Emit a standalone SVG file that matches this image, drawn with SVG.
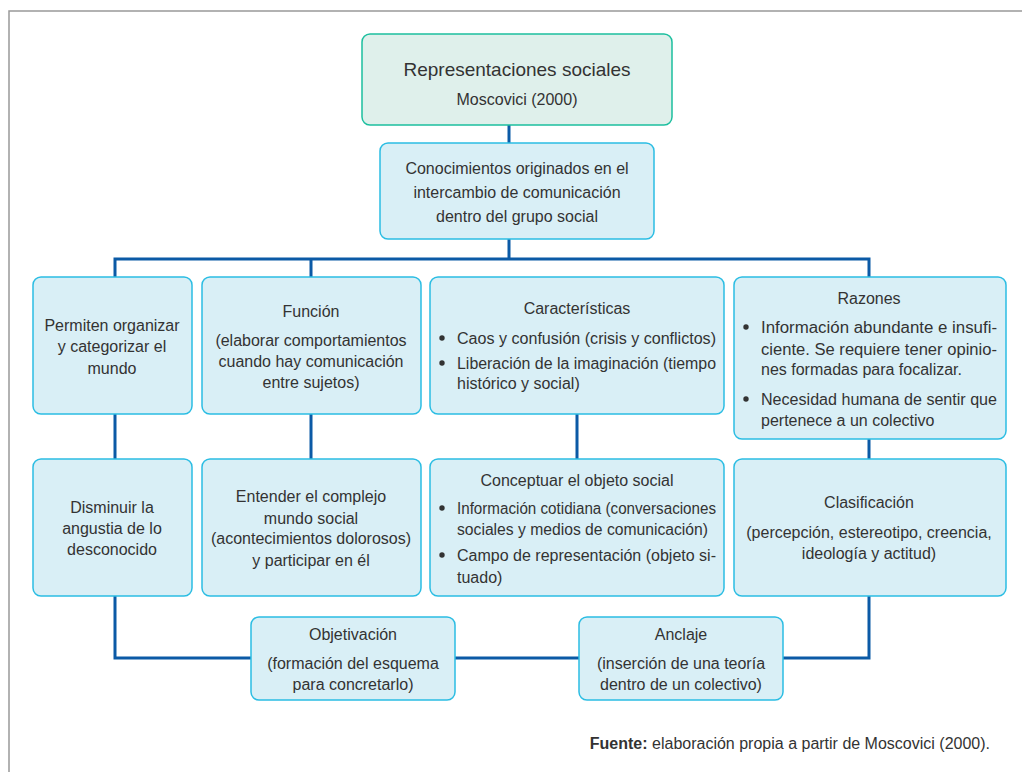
<svg xmlns="http://www.w3.org/2000/svg" width="1022" height="772" viewBox="0 0 1022 772">
<style>
.t{font-family:"Liberation Sans",Arial,sans-serif;font-size:16px;fill:#333;}
.c{text-anchor:middle;}
.b{fill:#d9eff6;stroke:#2bbde3;stroke-width:1.5;}
.top{fill:#dff0eb;stroke:#1dbf9f;stroke-width:1.5;}
.ln{fill:none;stroke:#0b5aa6;stroke-width:3;}
</style>
<rect width="1022" height="772" fill="#fff"/>
<path d="M9,772 V11 H1022" fill="none" stroke="#999" stroke-width="1.5"/>
<g id="connectors">
<path class="ln" d="M509,125 V143"/>
<path class="ln" d="M509,239 V259 M115,277 V259 H869 V277 M311,259 V277"/>
<path class="ln" d="M115,414 V459 M311,414 V459 M577,414 V459 M869,439 V459"/>
<path class="ln" d="M115,596 V658 H251 M455,658 H579 M783,658 H869 V596"/>
</g>
<g id="n-root">
<rect class="top" x="362" y="34" width="310" height="91" rx="8"/>
<text class="t c" x="517" y="76" style="font-size:19px">Representaciones sociales</text>
<text class="t c" x="517" y="105">Moscovici (2000)</text>
</g>
<g id="n-conoc">
<rect class="b" x="380" y="143" width="274" height="96" rx="8"/>
<text class="t c" x="517" y="174">Conocimientos originados en el</text>
<text class="t c" x="517" y="198">intercambio de comunicación</text>
<text class="t c" x="517" y="222">dentro del grupo social</text>
</g>
<g id="n-permiten">
<rect class="b" x="33" y="277" width="159" height="137" rx="8"/>
<text class="t c" x="112" y="331">Permiten organizar</text>
<text class="t c" x="112" y="352">y categorizar el</text>
<text class="t c" x="112" y="374">mundo</text>
</g>
<g id="n-funcion">
<rect class="b" x="202" y="277" width="219" height="137" rx="8"/>
<text class="t c" x="311" y="317">Función</text>
<text class="t c" x="311" y="346">(elaborar comportamientos</text>
<text class="t c" x="311" y="367">cuando hay comunicación</text>
<text class="t c" x="311" y="388">entre sujetos)</text>
</g>
<g id="n-caract">
<rect class="b" x="430" y="277" width="294" height="137" rx="8"/>
<text class="t c" x="577" y="314">Características</text>
<circle cx="442" cy="338" r="2.7" fill="#333"/>
<text class="t" x="457" y="344" textLength="259" lengthAdjust="spacingAndGlyphs">Caos y confusión (crisis y conflictos)</text>
<circle cx="442" cy="363" r="2.7" fill="#333"/>
<text class="t" x="457" y="369" textLength="259" lengthAdjust="spacingAndGlyphs">Liberación de la imaginación (tiempo</text>
<text class="t" x="457" y="389">histórico y social)</text>
</g>
<g id="n-razones">
<rect class="b" x="734" y="277" width="272" height="162" rx="8"/>
<text class="t c" x="869" y="304">Razones</text>
<circle cx="746" cy="327" r="2.7" fill="#333"/>
<text class="t" x="761" y="333" textLength="236" lengthAdjust="spacingAndGlyphs">Información abundante e insufi-</text>
<text class="t" x="761" y="355" textLength="236" lengthAdjust="spacingAndGlyphs">ciente. Se requiere tener opinio-</text>
<text class="t" x="761" y="375">nes formadas para focalizar.</text>
<circle cx="746" cy="399" r="2.7" fill="#333"/>
<text class="t" x="761" y="405" textLength="236" lengthAdjust="spacingAndGlyphs">Necesidad humana de sentir que</text>
<text class="t" x="761" y="426">pertenece a un colectivo</text>
</g>
<g id="n-disminuir">
<rect class="b" x="33" y="459" width="159" height="137" rx="8"/>
<text class="t c" x="112" y="513">Disminuir la</text>
<text class="t c" x="112" y="534">angustia de lo</text>
<text class="t c" x="112" y="555">desconocido</text>
</g>
<g id="n-entender">
<rect class="b" x="202" y="459" width="219" height="137" rx="8"/>
<text class="t c" x="311" y="502">Entender el complejo</text>
<text class="t c" x="311" y="524">mundo social</text>
<text class="t c" x="311" y="544">(acontecimientos dolorosos)</text>
<text class="t c" x="311" y="566">y participar en él</text>
</g>
<g id="n-conceptuar">
<rect class="b" x="430" y="459" width="294" height="137" rx="8"/>
<text class="t c" x="577" y="486">Conceptuar el objeto social</text>
<circle cx="442" cy="508" r="2.7" fill="#333"/>
<text class="t" x="457" y="514" textLength="259" lengthAdjust="spacingAndGlyphs">Información cotidiana (conversaciones</text>
<text class="t" x="457" y="535" textLength="251" lengthAdjust="spacingAndGlyphs">sociales y medios de comunicación)</text>
<circle cx="442" cy="555" r="2.7" fill="#333"/>
<text class="t" x="457" y="561" textLength="259" lengthAdjust="spacingAndGlyphs">Campo de representación (objeto si-</text>
<text class="t" x="457" y="583">tuado)</text>
</g>
<g id="n-clasif">
<rect class="b" x="734" y="459" width="272" height="137" rx="8"/>
<text class="t c" x="869" y="508">Clasificación</text>
<text class="t c" x="869" y="538">(percepción, estereotipo, creencia,</text>
<text class="t c" x="869" y="559">ideología y actitud)</text>
</g>
<g id="n-objetivacion">
<rect class="b" x="251" y="617" width="204" height="83" rx="8"/>
<text class="t c" x="353" y="640">Objetivación</text>
<text class="t c" x="353" y="669">(formación del esquema</text>
<text class="t c" x="353" y="690">para concretarlo)</text>
</g>
<g id="n-anclaje">
<rect class="b" x="579" y="617" width="204" height="83" rx="8"/>
<text class="t c" x="681" y="640">Anclaje</text>
<text class="t c" x="681" y="669">(inserción de una teoría</text>
<text class="t c" x="681" y="690">dentro de un colectivo)</text>
</g>
<text class="t" x="990" y="749" text-anchor="end"><tspan font-weight="bold">Fuente:</tspan> elaboración propia a partir de Moscovici (2000).</text>
</svg>
